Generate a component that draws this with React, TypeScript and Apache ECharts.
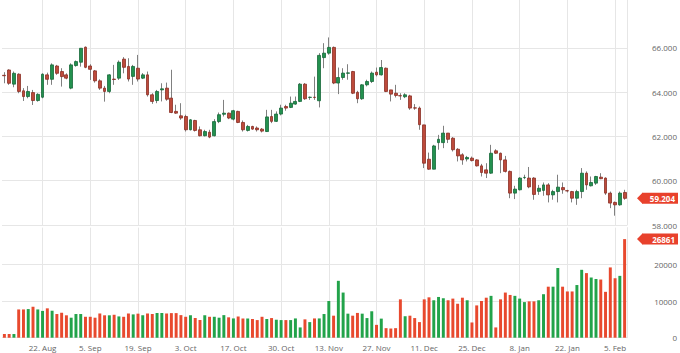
import React, { useEffect, useRef } from 'react';
import * as echarts from 'echarts';

const opens = [
  64.76, 65.00, 64.36, 64.81, 64.06, 63.80, 63.98, 63.62, 63.77, 64.78,
  64.58, 65.18, 64.93, 64.78, 64.18, 65.20, 65.35, 66.03, 65.18, 64.96,
  64.51, 64.18, 64.03, 64.59, 64.63, 65.49, 65.16, 64.71, 65.08, 64.63,
  64.78, 63.88, 63.62, 64.10, 64.18, 63.73, 63.13, 62.93, 62.90, 62.30,
  62.72, 62.30, 62.03, 62.19, 62.03, 62.67, 63.00, 63.05, 62.78, 63.13,
  62.63, 62.27, 62.45, 62.38, 62.33, 62.22, 62.90, 62.68, 63.01, 63.35,
  63.31, 63.46, 63.58, 64.36, 63.76, 63.77, 63.61, 65.56, 65.76, 66.02,
  64.41, 64.66, 64.85, 64.93, 63.99, 63.70, 64.33, 64.48, 64.90, 64.78,
  65.08, 64.10, 63.95, 63.84, 63.79, 63.83, 63.29, 63.28, 62.52, 60.97,
  60.52, 61.72, 61.72, 62.15, 61.92, 61.42, 61.17, 60.98, 61.02, 60.94,
  60.67, 60.49, 60.34, 61.35, 61.24, 60.94, 60.42, 59.44, 59.59, 60.14,
  60.12, 60.12, 59.52, 59.56, 59.81, 59.36, 59.51, 59.69, 59.55, 59.51,
  59.21, 59.51, 60.34, 59.77, 59.89, 60.16, 60.12, 59.44, 59.02, 58.91,
  59.47
];
const closes = [
  64.74, 64.40, 64.85, 64.03, 63.80, 64.03, 63.62, 63.90, 64.81, 64.58,
  65.23, 64.85, 64.70, 64.63, 65.23, 65.38, 65.98, 65.12, 65.03, 64.51,
  64.18, 64.03, 64.78, 64.57, 65.35, 65.12, 64.59, 65.16, 64.59, 64.78,
  63.88, 63.58, 64.03, 64.15, 63.68, 63.08, 63.05, 62.83, 62.30, 62.75,
  62.27, 62.03, 62.22, 61.97, 62.67, 62.98, 63.05, 62.83, 63.16, 62.63,
  62.30, 62.45, 62.33, 62.30, 62.24, 62.88, 62.68, 63.01, 63.28, 63.28,
  63.50, 63.58, 64.36, 63.70, 63.77, 63.76, 65.66, 65.76, 66.02, 64.41,
  64.66, 64.86, 64.87, 63.95, 63.70, 64.33, 64.48, 64.86, 64.78, 65.11,
  64.03, 63.91, 63.85, 63.83, 63.88, 63.28, 63.28, 62.53, 60.79, 60.52,
  61.57, 61.87, 62.15, 61.87, 61.40, 61.12, 60.94, 61.05, 60.91, 60.67,
  60.37, 60.34, 61.24, 61.24, 60.94, 60.42, 59.44, 59.62, 60.12, 60.15,
  59.72, 59.38, 59.66, 59.81, 59.36, 59.51, 59.71, 59.59, 59.54, 59.21,
  59.51, 60.34, 59.81, 59.92, 60.19, 60.09, 59.44, 58.99, 58.91, 59.44,
  59.204
];
const lows = [
  64.40, 64.33, 64.22, 63.95, 63.60, 63.72, 63.42, 63.57, 63.72, 64.33,
  64.33, 64.78, 64.25, 64.58, 64.13, 65.15, 65.15, 65.08, 64.55, 64.43,
  64.10, 63.57, 63.95, 64.33, 64.55, 64.85, 64.48, 64.33, 64.48, 64.59,
  63.80, 63.47, 63.50, 63.58, 63.61, 63.05, 63.02, 62.75, 62.22, 62.27,
  62.22, 62.00, 62.00, 61.92, 62.00, 62.60, 62.90, 62.78, 62.72, 62.60,
  62.22, 62.22, 62.30, 62.22, 62.18, 62.20, 62.60, 62.65, 62.95, 63.16,
  63.28, 63.43, 63.55, 63.65, 63.65, 63.65, 63.31, 65.08, 65.69, 64.36,
  63.91, 64.56, 64.56, 63.91, 63.50, 63.65, 64.26, 64.41, 64.71, 64.75,
  64.00, 63.58, 63.76, 63.65, 63.73, 63.20, 63.20, 62.30, 60.57, 60.49,
  60.52, 61.40, 61.47, 61.70, 61.32, 60.87, 60.72, 60.87, 60.87, 60.64,
  60.19, 60.12, 60.31, 61.21, 60.34, 60.37, 59.21, 59.17, 59.56, 60.07,
  59.66, 59.14, 59.36, 59.32, 59.02, 59.14, 59.02, 59.41, 59.47, 59.02,
  58.91, 59.21, 59.59, 59.74, 59.81, 60.07, 59.36, 58.76, 58.42, 58.87,
  59.14
];
const highs = [
  64.90, 65.03, 64.93, 64.85, 64.18, 64.28, 64.10, 63.95, 64.85, 64.88,
  65.30, 65.23, 65.08, 64.85, 65.30, 65.43, 65.98, 66.06, 65.26, 65.00,
  64.58, 64.28, 64.81, 65.23, 65.43, 65.58, 65.53, 65.23, 65.68, 64.86,
  64.93, 63.95, 64.10, 64.40, 64.43, 65.01, 63.43, 63.50, 62.98, 62.78,
  62.75, 62.45, 62.30, 62.30, 62.78, 63.08, 63.65, 63.08, 63.20, 63.16,
  62.72, 62.52, 62.48, 62.45, 62.38, 63.20, 63.20, 63.13, 63.43, 63.43,
  63.80, 63.80, 64.41, 64.41, 63.80, 64.70, 65.76, 66.21, 66.47, 66.06,
  65.11, 65.08, 65.26, 64.96, 64.06, 64.36, 64.56, 64.93, 65.11, 65.45,
  65.11, 64.10, 64.33, 63.95, 63.95, 63.88, 63.46, 63.35, 62.52, 61.27,
  61.62, 62.07, 62.48, 62.15, 61.97, 61.47, 61.24, 61.12, 61.09, 60.97,
  60.76, 60.79, 61.62, 61.42, 61.27, 61.12, 60.46, 59.77, 60.16, 60.27,
  60.62, 60.16, 59.81, 59.92, 59.89, 59.59, 60.27, 59.92, 59.59, 59.54,
  59.59, 60.57, 60.42, 60.19, 60.22, 60.34, 60.15, 59.51, 59.06, 59.51,
  59.59
];
const volumes = [
  1000, 1000, 1000, 7700, 7700, 7800, 8400, 7700, 7300, 8000,
  7350, 6450, 6800, 6100, 5450, 6450, 6450, 5700, 5700, 5450,
  6600, 6100, 6100, 6250, 5800, 5700, 6600, 6350, 6550, 6150,
  6600, 6450, 6700, 6700, 6600, 6700, 6700, 6150, 5700, 6150,
  5350, 4800, 6150, 5700, 5700, 5450, 6150, 5550, 5250, 5800,
  5250, 5250, 5100, 4800, 5700, 5100, 5350, 4900, 4800, 4800,
  4800, 5250, 2800, 5000, 4250, 5250, 5250, 6450, 10000, 6000,
  15500, 12300, 6550, 6000, 6750, 6550, 5350, 7200, 3500, 5200,
  2600, 2500, 2600, 10450, 5850, 6000, 5350, 4250, 10450, 11000,
  10200, 11100, 10750, 10200, 10650, 9250, 10900, 10200, 4150, 8800,
  10000, 10900, 11400, 2800, 10450, 12300, 11650, 11400, 10650, 9700,
  9900, 9900, 10200, 11850, 13900, 13900, 19000, 13900, 12600, 12600,
  14350, 18500, 17600, 16400, 16000, 15850, 12500, 19150, 16200, 16850,
  26861
];
const tickLabels = [
  '22. Aug', '5. Sep', '19. Sep', '3. Oct', '17. Oct', '30. Oct', '13. Nov',
  '27. Nov', '11. Dec', '25. Dec', '8. Jan', '22. Jan', '5. Feb'
];
const firstTickIndex = 8;
const tickStep = 10;
const priceTicksShown = [58, 60, 62, 64, 66];

const UP_BODY = '#23914f';
const UP_BORDER = '#17683a';
const DOWN_BODY = '#bd4a3b';
const DOWN_BORDER = '#8a2e24';
const WICK = '#808080';
const VOL_UP = '#22a34a';
const VOL_DOWN = '#e8492e';
const GRID_LINE = '#e6e6e6';
const LABEL_RED = '#e8412c';
const TEXT = '#666';
const FONT = 'Open Sans, Noto Sans, sans-serif';
const CLEAR = 'rgba(0,0,0,0)';

const GRID_LEFT = 2;
const GRID_RIGHT = 53;
const LABEL_GAP = 15;

export default function App() {
  const ref = useRef<HTMLDivElement>(null);

  useEffect(() => {
    const chart = echarts.init(ref.current!, undefined, { renderer: 'svg' });
    const n = closes.length;
    const cats = closes.map((_, i) => String(i));
    const isTick = (i: number) => i >= firstTickIndex && (i - firstTickIndex) % tickStep === 0;
    const isUp = (i: number) =>
      closes[i] > opens[i] || (closes[i] === opens[i] && i > 0 && closes[i] >= closes[i - 1]);

    const wickData = closes.map((c, i) => [opens[i], c, lows[i], highs[i]]);
    const bodyData = closes.map((c, i) => [opens[i], c, Math.min(opens[i], c), Math.max(opens[i], c)]);
    const volData = volumes.map((v, i) => ({
      value: v,
      itemStyle: { color: isUp(i) ? VOL_UP : VOL_DOWN },
    }));
    const lastClose = closes[n - 1];
    const lastVol = volumes[n - 1];

    const xBase = (gridIndex: number, showLabels: boolean) => ({
      type: 'category',
      gridIndex,
      data: cats,
      boundaryGap: true,
      axisLine: { show: false },
      axisTick: { show: false },
      splitLine: {
        show: true,
        interval: (i: number) => isTick(i),
        alignWithLabel: true,
        lineStyle: { color: GRID_LINE, width: 1 },
      },
      axisLabel: {
        show: showLabels,
        interval: (i: number) => isTick(i),
        formatter: (_v: string, i: number) => tickLabels[(i - firstTickIndex) / tickStep] ?? '',
        color: TEXT,
        fontSize: 8,
        fontFamily: FONT,
        margin: 6,
      },
    });

    const priceLineColors = [...priceTicksShown.map(() => GRID_LINE), CLEAR];

    chart.setOption({
      animation: false,
      backgroundColor: '#fff',
      grid: [
        { left: GRID_LEFT, right: GRID_RIGHT, top: 0, height: 225 },
        { left: GRID_LEFT, right: GRID_RIGHT, top: 227.6, height: 110.1 },
      ],
      xAxis: [xBase(0, false), xBase(1, true)],
      yAxis: [
        {
          type: 'value',
          gridIndex: 0,
          position: 'right',
          min: 58,
          max: 68.16,
          interval: 2,
          axisLine: { show: true, lineStyle: { color: GRID_LINE } },
          axisTick: { show: false },
          splitLine: { show: true, showMaxLine: false, lineStyle: { color: priceLineColors } },
          axisLabel: {
            formatter: (v: number) => (priceTicksShown.indexOf(Math.round(v)) >= 0 ? v.toFixed(3) : ''),
            showMaxLabel: false,
            align: 'right',
            margin: 50,
            color: TEXT,
            fontSize: 8,
            fontFamily: FONT,
          },
        },
        {
          type: 'value',
          gridIndex: 1,
          position: 'right',
          min: 0,
          max: 30000,
          interval: 10000,
          axisLine: { show: true, lineStyle: { color: GRID_LINE } },
          axisTick: { show: false },
          splitLine: { show: true, showMaxLine: false, lineStyle: { color: GRID_LINE } },
          axisLabel: {
            formatter: (v: number) => String(v),
            showMaxLabel: false,
            align: 'right',
            margin: 50,
            color: TEXT,
            fontSize: 8,
            fontFamily: FONT,
          },
        },
      ],
      series: [
        {
          name: 'wick',
          type: 'candlestick',
          xAxisIndex: 0,
          yAxisIndex: 0,
          data: wickData,
          barWidth: 1,
          itemStyle: { color: WICK, color0: WICK, borderColor: WICK, borderColor0: WICK, borderWidth: 1 },
          silent: true,
        },
        {
          name: 'body',
          type: 'candlestick',
          xAxisIndex: 0,
          yAxisIndex: 0,
          data: bodyData,
          barWidth: '70%',
          itemStyle: {
            color: UP_BODY,
            color0: DOWN_BODY,
            borderColor: UP_BORDER,
            borderColor0: DOWN_BORDER,
            borderWidth: 0.8,
          },
        },
        {
          name: 'volume',
          type: 'bar',
          xAxisIndex: 1,
          yAxisIndex: 1,
          data: volData,
          barWidth: '62%',
        },
      ],
    });

    const boxLeft = 680 - GRID_RIGHT + LABEL_GAP;
    const tag = (y: number, text: string) => ({
      type: 'group',
      silent: true,
      children: [
        {
          type: 'polygon',
          shape: { points: [[boxLeft - 5, y], [boxLeft + 0.5, y - 5.5], [boxLeft + 0.5, y + 5.5]] },
          style: { fill: LABEL_RED },
        },
        {
          type: 'rect',
          shape: { x: boxLeft, y: y - 5.5, width: 36, height: 11 },
          style: { fill: LABEL_RED },
        },
        {
          type: 'text',
          x: boxLeft + 33,
          y,
          style: {
            text,
            fill: '#fff',
            font: `bold 8px ${FONT}`,
            align: 'right',
            verticalAlign: 'middle',
          },
        },
      ],
    });
    const yPrice = chart.convertToPixel({ yAxisIndex: 0 }, lastClose) as number;
    const yVol = chart.convertToPixel({ yAxisIndex: 1 }, lastVol) as number;
    chart.setOption({
      graphic: [tag(yPrice, lastClose.toFixed(3)), tag(yVol, String(lastVol))],
    });

    return () => chart.dispose();
  }, []);

  return (
    <div
      ref={ref}
      style={{ position: 'absolute', left: 0, top: 0, width: 680, height: 353 }}
    />
  );
}
